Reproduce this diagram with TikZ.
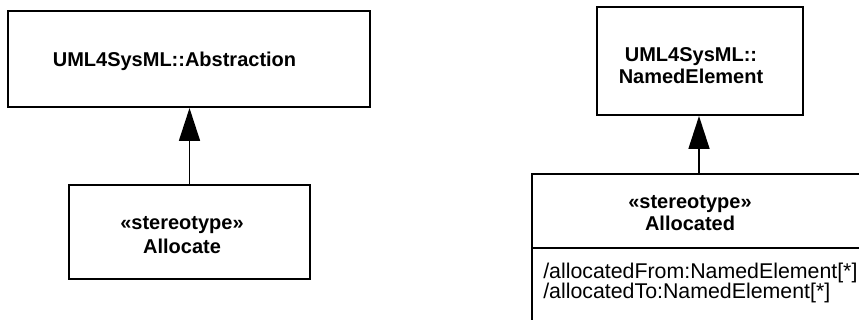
\documentclass[tikz,border=0pt]{standalone}
\usepackage{fontspec}
\setmainfont{Liberation Sans}
\usetikzlibrary{arrows.meta,shadows}
\begin{document}
\begin{tikzpicture}[x=0.75pt,y=-0.75pt,
  box/.style={draw=black, line width=1.5pt, fill=white, rectangle, inner sep=0pt,
    drop shadow={shadow xshift=1pt, shadow yshift=-1pt, fill=gray!80, opacity=0.7}},
  btxt/.style={font=\fontsize{15pt}{16.5pt}\selectfont\bfseries, align=center, inner sep=0pt},
  atxt/.style={font=\fontsize{16pt}{18pt}\selectfont, anchor=base west, inner sep=0pt},
  gen/.style={line width=1.3pt, -{Triangle[length=24.75pt, width=15.75pt]}}
]
\useasboundingbox (0,0) rectangle (859,320);
\fill[white] (0,0) rectangle (859,320);

% left
\node[box, minimum width=362*0.75pt, minimum height=96*0.75pt] (abs) at (189,59) {};
\node[btxt, anchor=base] (abst) at (174.5,66.5) {UML4SysML::Abstraction};
\node[box, minimum width=241*0.75pt, minimum height=94*0.75pt] (alc) at (189.5,232) {};
\node[btxt, font=\fontsize{15pt}{18pt}\selectfont\bfseries] (alct) at (182,235) {«stereotype»\\Allocate};
\draw[gen] (alc.north) -- (alc.north |- abs.south);

% right
\node[box, minimum width=206*0.75pt, minimum height=108*0.75pt] (ne) at (700,61) {};
\node[btxt] (net) at (691,66) {UML4SysML::\\NamedElement};
\node[box, minimum width=334*0.75pt, minimum height=147*0.75pt] (ald) at (699,247.5) {};
\node[btxt] (aldt) at (690,213) {«stereotype»\\Allocated};
\draw[line width=1.1pt] (ald.west |- 0,248) -- (ald.east |- 0,248);
\node[atxt] (a1) at (543,278) {/allocatedFrom:NamedElement[*]};
\node[atxt] (a2) at (543,298) {/allocatedTo:NamedElement[*]};
\draw[gen] (ald.north) -- (ald.north |- ne.south);
\end{tikzpicture}
\end{document}
